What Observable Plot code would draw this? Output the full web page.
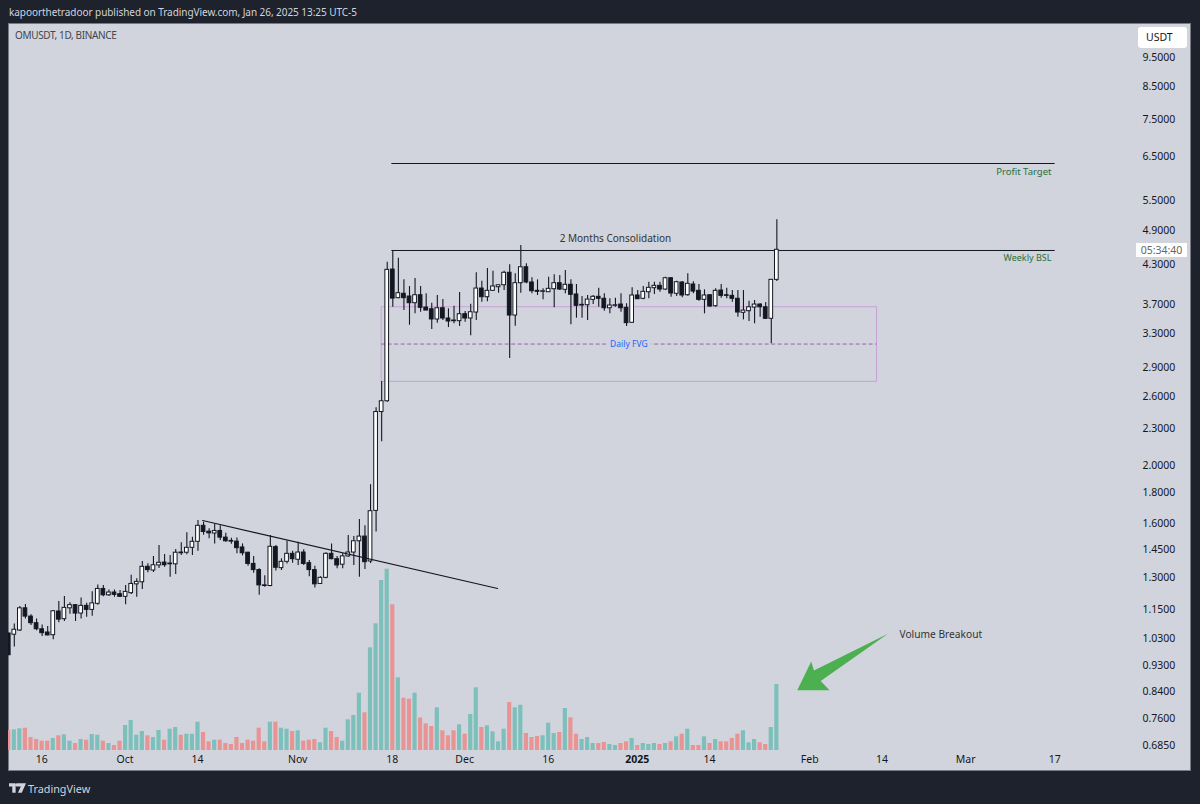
<!DOCTYPE html>
<html>
<head>
<meta charset="utf-8">
<script src="https://cdn.jsdelivr.net/npm/d3@7"></script>
<script src="https://cdn.jsdelivr.net/npm/@observablehq/plot@0.6"></script>
<style>
html,body{margin:0;padding:0;width:1200px;height:804px;overflow:hidden;background:#1e222d;font-family:"Noto Sans",sans-serif}
#panel{position:absolute;left:8px;top:23px;width:1181px;height:746px;background:#d1d4dc;border:1px solid #787b86}
#chart{position:absolute;left:0;top:0;width:1200px;height:804px}
.abs{position:absolute;white-space:nowrap}
</style>
</head>
<body>
<div id="panel"></div>
<div id="chart"></div>
<div class="abs" style="left:9px;top:5px;font-size:10px;letter-spacing:-.05px;color:#d1d4dc">kapoorthetradoor published on TradingView.com, Jan 26, 2025 13:25 UTC-5</div>
<div class="abs" style="left:15px;top:28px;font-size:10px;letter-spacing:-.35px;color:#434651">OMUSDT, 1D, BINANCE</div>
<div class="abs" style="left:1138px;top:27px;width:49px;height:21px;line-height:21px;background:#fff;border-radius:3px;font-size:10.5px;color:#131722;text-indent:8px">USDT</div>
<div class="abs" style="left:1136px;top:243px;width:51px;height:14px;line-height:14px;background:#fff;font-size:10.5px;color:#666;text-align:center">05:34:40</div>
<svg class="abs" style="left:9px;top:783px" width="17" height="10" viewBox="0 0 36 20"><path fill="#d1d4dc" d="M0 0h14v20H7V7H0zM16 0h20l-9 20H19l6-13h-9a4 4 0 0 1 0-7z"/></svg>
<div class="abs" style="left:28px;top:781px;font-size:10.8px;color:#d1d4dc">TradingView</div>
<script>
// Daily candles, BINANCE OMUSDT, 2024-09-10 .. 2025-01-26
const startDate = "2024-09-10";
const opens = [1.051,1.046,1.063,1.157,1.121,1.093,1.068,1.055,1.044,1.143,1.110,1.157,1.171,1.134,1.168,1.150,1.177,1.246,1.216,1.229,1.221,1.209,1.226,1.268,1.278,1.356,1.337,1.363,1.378,1.369,1.369,1.432,1.431,1.458,1.492,1.586,1.551,1.540,1.555,1.516,1.497,1.493,1.460,1.431,1.371,1.339,1.263,1.260,1.462,1.349,1.382,1.425,1.393,1.432,1.375,1.339,1.270,1.300,1.425,1.396,1.367,1.411,1.432,1.495,1.522,1.384,1.679,2.450,2.553,4.224,3.786,3.850,3.810,3.714,3.829,3.653,3.629,3.490,3.643,3.503,3.476,3.467,3.561,3.503,3.584,3.928,3.800,3.894,3.948,3.978,4.172,3.543,4.009,4.261,4.020,3.894,3.879,3.873,3.918,4.009,3.909,3.985,3.840,3.681,3.685,3.762,3.806,3.777,3.643,3.677,3.695,3.649,3.446,3.825,3.777,3.873,3.933,3.969,3.913,4.086,3.850,4.020,3.829,3.989,3.894,3.762,3.829,3.672,3.898,3.829,3.820,3.777,3.580,3.602,3.653,3.695,3.657,3.499,4.061];
const closes = [0.967,1.066,1.157,1.121,1.093,1.068,1.052,1.043,1.144,1.108,1.159,1.171,1.134,1.168,1.150,1.179,1.246,1.216,1.229,1.218,1.209,1.232,1.270,1.280,1.356,1.339,1.364,1.377,1.364,1.373,1.431,1.428,1.458,1.492,1.586,1.549,1.541,1.555,1.516,1.495,1.493,1.456,1.428,1.371,1.339,1.263,1.260,1.464,1.351,1.382,1.425,1.396,1.432,1.371,1.339,1.268,1.300,1.425,1.396,1.363,1.411,1.432,1.495,1.522,1.380,1.677,2.450,2.553,4.219,3.780,3.859,3.786,3.714,3.829,3.649,3.611,3.490,3.643,3.503,3.463,3.467,3.561,3.503,3.588,3.928,3.800,3.894,3.959,3.978,4.172,3.543,4.009,4.261,4.020,3.888,3.879,3.888,3.924,4.009,3.913,3.985,3.835,3.677,3.691,3.766,3.806,3.777,3.643,3.681,3.685,3.643,3.441,3.825,3.771,3.879,3.939,3.969,3.913,4.086,3.854,4.024,3.825,4.000,3.883,3.762,3.825,3.667,3.894,3.820,3.820,3.777,3.584,3.611,3.657,3.695,3.657,3.499,4.061,4.555];
const highs = [1.051,1.090,1.165,1.174,1.129,1.111,1.086,1.079,1.147,1.187,1.210,1.182,1.174,1.203,1.180,1.233,1.265,1.262,1.241,1.241,1.238,1.262,1.313,1.295,1.384,1.372,1.411,1.471,1.421,1.416,1.449,1.486,1.545,1.518,1.618,1.608,1.569,1.594,1.586,1.541,1.512,1.514,1.480,1.434,1.411,1.346,1.311,1.528,1.471,1.398,1.495,1.439,1.489,1.447,1.389,1.359,1.306,1.431,1.480,1.411,1.425,1.528,1.522,1.624,1.586,1.856,2.490,2.753,4.343,4.543,4.411,4.061,3.959,4.082,3.959,3.850,3.714,3.825,3.766,3.635,3.672,3.869,3.597,3.700,4.172,4.039,4.241,4.197,3.978,4.197,4.301,4.155,4.631,4.318,4.093,4.061,3.924,4.102,4.140,4.129,4.208,4.061,3.989,3.810,3.825,3.825,3.933,3.850,3.777,3.786,3.850,3.705,3.939,3.898,3.959,4.024,4.024,4.024,4.102,4.093,4.039,4.035,4.155,4.030,3.989,3.909,3.829,3.924,3.989,3.933,3.898,3.898,3.898,3.742,3.752,3.705,3.723,4.066,5.108];
const lows = [0.967,0.998,1.059,1.111,1.083,1.062,1.039,1.042,1.026,1.095,1.100,1.131,1.100,1.111,1.118,1.122,1.171,1.209,1.210,1.207,1.207,1.173,1.220,1.207,1.243,1.325,1.327,1.347,1.354,1.303,1.317,1.416,1.420,1.416,1.439,1.530,1.509,1.480,1.499,1.489,1.478,1.425,1.414,1.359,1.323,1.216,1.254,1.257,1.335,1.337,1.371,1.375,1.363,1.363,1.305,1.251,1.267,1.296,1.393,1.346,1.346,1.407,1.363,1.303,1.342,1.373,1.549,2.186,2.544,3.657,3.777,3.611,3.414,3.566,3.588,3.611,3.358,3.441,3.476,3.384,3.433,3.397,3.454,3.279,3.476,3.728,3.734,3.883,3.859,3.898,3.006,3.401,3.859,4.000,3.850,3.825,3.762,3.869,3.649,3.898,3.850,3.420,3.507,3.507,3.476,3.695,3.657,3.602,3.566,3.657,3.588,3.397,3.441,3.766,3.762,3.777,3.840,3.873,3.898,3.800,3.810,3.791,3.815,3.850,3.742,3.566,3.657,3.657,3.786,3.777,3.728,3.521,3.485,3.463,3.433,3.521,3.494,3.180,4.035];
const volumes = [20,20.7,21.7,22.3,13,11,9.3,9.3,12,14.7,15.7,9.3,7,11,10.3,16,15.3,9.3,7,5,9.3,25,30,15.3,19,14.7,13,20,10.3,21.3,23,15.3,16.3,16.3,28.3,18,8.7,10.3,10.3,7,6,13,7,10.3,9.3,22.3,8.7,28.3,28.3,22.3,21.3,19,19.7,9.3,10.3,11,7.7,22.3,19,13,9.3,30.7,35,57.3,37.7,102.7,126.7,170,181.3,145.7,72.7,52.3,51.3,57.3,32.5,26.7,24,42.7,19.7,14.7,19.7,25.7,16.3,36,62.7,23,24.7,18.7,8.7,21.3,48,42.7,45.3,17,13,14,14.7,27.3,17,18,42,32.7,16.3,11,13,7,7,8,6,5,7,8.7,12,5,7,6,7,6,7,8.7,13.7,16.3,21.3,5,5,13.7,7,11,8.7,8.7,12,16.3,19.7,7.7,11,7.7,6,23,66];

// Price scale labels and time scale labels
const priceTicks = [9.5,8.5,7.5,6.5,5.5,4.9,4.3,3.7,3.3,2.9,2.6,2.3,2.0,1.8,1.6,1.45,1.3,1.15,1.03,0.93,0.84,0.76,0.685];
const timeTickDates = ["2024-09-16","2024-10-01","2024-10-14","2024-11-01","2024-11-18","2024-12-01","2024-12-16","2025-01-01","2025-01-14","2025-02-01","2025-02-14","2025-03-01","2025-03-17"];
const timeTickLabels = ["16","Oct","14","Nov","18","Dec","16","2025","14","Feb","14","Mar","17"];

// Chart annotations in data coordinates
const targetLevel = 6.335, bslLevel = 4.543, lineStart = "2024-11-17T20:00", lineEnd = "2025-03-17";
const fvgTop = 3.657, fvgBottom = 2.750, fvgMid = 3.177, fvgStart = "2024-11-16", fvgEnd = "2025-02-13";
const trendDates = ["2024-10-14T20:00","2024-12-06T20:00"], trendPrices = [1.618,1.248];
const arrowDates = ["2025-02-14T23:00","2025-02-01T16:00","2025-02-01T04:00","2025-01-29T16:00","2025-02-04T11:00","2025-02-02T21:00","2025-02-14T23:00"];
const arrowPrices = [1.050,0.912,0.9445,0.8456,0.8456,0.8766,1.050];

const T = s => new Date(s.length > 10 ? s + "Z" : s + "T00:00Z");
const start = T(startDate);
const candles = opens.map((o, i) => {
  const date = d3.utcDay.offset(start, i);
  return {date, open:o, close:closes[i], high:highs[i], low:lows[i], volume:volumes[i],
          x1:d3.utcHour.offset(date,-8), x2:d3.utcHour.offset(date,8),
          vx1:d3.utcHour.offset(date,-9), vx2:d3.utcHour.offset(date,9), up:closes[i] >= opens[i]};
});
const xDomain = [T("2024-09-09T23:00"), T("2025-04-01T08:00")];
const W = 1200, H = 804, mL = 8, mR = 60, mT = 24, mB = 54;
const labelFor = new Map(timeTickDates.map((d,i)=>[+T(d),timeTickLabels[i]]));
const ink = "#131722", fontFam = '"Noto Sans",sans-serif';

const volumePlot = Plot.plot({
  width:W, height:H, marginLeft:mL, marginRight:mR, marginTop:mT, marginBottom:mB,
  style:{background:"transparent"},
  x:{type:"utc", domain:xDomain, axis:null},
  y:{domain:[0,726], axis:null},
  marks:[
    Plot.rectY(candles,{x1:"vx1",x2:"vx2",y1:0,y2:"volume",fill:d=>d.up?"#7dc0bb":"#e89494",clip:true})
  ]
});

const main = Plot.plot({
  width:W, height:H, marginLeft:mL, marginRight:mR, marginTop:mT, marginBottom:mB,
  style:{background:"transparent", fontFamily:fontFam, fontSize:"10.5px", color:ink, overflow:"visible"},
  x:{type:"utc", domain:xDomain},
  y:{type:"log", domain:[0.6719,10.777]},
  marks:[
    Plot.axisY(priceTicks,{anchor:"right",tickSize:0,tickPadding:2,label:null,tickFormat:d=>d.toFixed(4),fill:ink}),
    Plot.axisX(timeTickDates.map(d=>T(d)),{anchor:"bottom",tickSize:0,tickPadding:5,dx:-0.5,label:null,tickFormat:d=>labelFor.get(+d),fill:ink}),
    // FVG box
    Plot.rect([{a:T(fvgStart),b:T(fvgEnd),lo:fvgBottom,hi:fvgTop}],{x1:"a",x2:"b",y1:"lo",y2:"hi",stroke:"#c8a2d6",strokeWidth:1,fill:"none"}),
    Plot.ruleY([{p:fvgMid,a:T(fvgStart),b:T(fvgEnd)}],{y:"p",x1:"a",x2:"b",stroke:"#a05cb8",strokeWidth:1,strokeDasharray:"4 2.5"}),
    // Levels
    Plot.ruleY([{p:targetLevel,a:T(lineStart),b:T(lineEnd)}],{y:"p",x1:"a",x2:"b",stroke:ink,strokeWidth:1}),
    Plot.ruleY([{p:bslLevel,a:T(lineStart),b:T(lineEnd)}],{y:"p",x1:"a",x2:"b",stroke:ink,strokeWidth:1}),
    // Candles
    Plot.ruleX(candles,{x:"date",y1:"low",y2:"high",stroke:ink,strokeWidth:1.1,clip:true}),
    Plot.rect(candles,{x1:"x1",x2:"x2",y1:"open",y2:"close",fill:d=>d.up?"#ffffff":ink,stroke:ink,strokeWidth:1,clip:true}),
    // Trend line
    Plot.line(trendDates.map((d,i)=>({d:T(d),p:trendPrices[i]})),{x:"d",y:"p",stroke:ink,strokeWidth:1.1}),
    // Arrow
    Plot.line(arrowDates.map((d,i)=>({d:T(d),p:arrowPrices[i]})),{x:"d",y:"p",fill:"#4caf50",stroke:"none"}),
    // Labels
    Plot.text([{s:"2 Months Consolidation",d:T("2024-12-28"),p:4.756}],{x:"d",y:"p",text:"s",fontSize:10,fill:"#333"}),
    Plot.text([{s:"Weekly BSL",d:T("2025-03-16T08:00"),p:4.406}],{x:"d",y:"p",text:"s",fontSize:9,fill:"#2a6f38",textAnchor:"end"}),
    Plot.text([{s:"Profit Target",d:T("2025-03-16T08:00"),p:6.145}],{x:"d",y:"p",text:"s",fontSize:9.5,fill:"#2a6f38",textAnchor:"end"}),
    Plot.text([{s:"Daily FVG",d:T("2024-12-30T10:00"),p:fvgMid}],{x:"d",y:"p",text:"s",fontSize:8.5,fill:"#2962ff",stroke:"#d1d4dc",strokeWidth:8,paintOrder:"stroke"}),
    Plot.text([{s:"Volume Breakout",d:T("2025-02-17T01:00"),p:1.047}],{x:"d",y:"p",text:"s",fontSize:10.2,fill:"#333",textAnchor:"start"})
  ]
});
// Volume pane shares the time scale but has its own linear value scale
volumePlot.setAttribute("x",0);
volumePlot.setAttribute("y",0);
main.insertBefore(volumePlot, main.querySelector(':scope > g'));
// The year label is bold on the time scale
main.querySelectorAll('text').forEach(t=>{ if(t.textContent==="2025") t.setAttribute("font-weight","bold"); });
main.style.position="absolute";
document.getElementById("chart").appendChild(main);
</script>
</body>
</html>
